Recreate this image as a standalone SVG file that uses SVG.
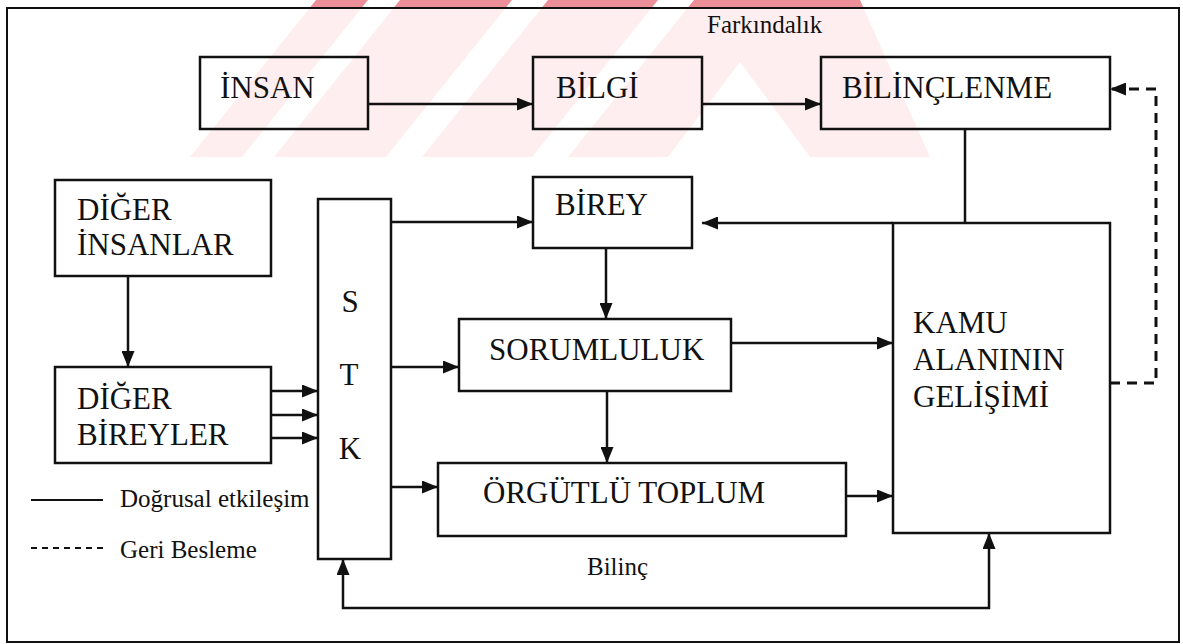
<svg xmlns="http://www.w3.org/2000/svg" xmlns:xlink="http://www.w3.org/1999/xlink" width="1183" height="644" viewBox="0 0 1183 644">
<style>
.box{fill:none;stroke:#111;stroke-width:2.5}
.t{font-family:"Liberation Serif","Times New Roman",serif;font-size:31px;fill:#111}
.s{font-family:"Liberation Serif","Times New Roman",serif;font-size:25px;fill:#111}
.c{fill:none;stroke:#111;stroke-width:2.5}
.d{fill:none;stroke:#111;stroke-width:3;stroke-dasharray:10 7}
</style>
<defs>
<marker id="ah" viewBox="0 0 16 13" refX="16" refY="6.5" markerWidth="16" markerHeight="13" markerUnits="userSpaceOnUse" orient="auto-start-reverse"><path d="M0,0 L16,6.5 L0,13 Z" fill="#111"/></marker>
<g id="wm">
<polygon points="190,157 316,0 368,0 242,157"/>
<polygon points="274,157 400,0 512,0 386,157"/>
<polygon points="422,157 548,0 658,0 532,157"/>
<polygon points="568,157 694,0 860,0 930,157 810,157 740,62 668,157"/>
</g>
<clipPath id="cin"><rect x="8" y="9" width="1170" height="150"/></clipPath>
<clipPath id="ctop"><rect x="0" y="0" width="1183" height="8"/></clipPath>
</defs>
<rect x="0" y="0" width="1183" height="644" fill="#fff"/>
<g id="watermark">
<use xlink:href="#wm" fill="#feeef0" clip-path="url(#cin)"/>
<use xlink:href="#wm" fill="#ec8f98" clip-path="url(#ctop)"/>
</g>
<rect id="frame" x="7" y="8" width="1172" height="634" fill="none" stroke="#111" stroke-width="2"/>
<g id="connectors">
<path class="c" d="M368,104 H533" marker-end="url(#ah)"/>
<path class="c" d="M702,104 H821" marker-end="url(#ah)"/>
<path class="c" d="M965,129 V223"/>
<path class="c" d="M128,276 V367" marker-end="url(#ah)"/>
<path class="c" d="M271,391 H318" marker-end="url(#ah)"/>
<path class="c" d="M271,415 H318" marker-end="url(#ah)"/>
<path class="c" d="M271,438 H318" marker-end="url(#ah)"/>
<path class="c" d="M391,222 H533" marker-end="url(#ah)"/>
<path class="c" d="M391,367 H459" marker-end="url(#ah)"/>
<path class="c" d="M391,487 H438" marker-end="url(#ah)"/>
<path class="c" d="M606,248 V319" marker-end="url(#ah)"/>
<path class="c" d="M607,391 V463" marker-end="url(#ah)"/>
<path class="c" d="M731,343 H893" marker-end="url(#ah)"/>
<path class="c" d="M846,496 H893" marker-end="url(#ah)"/>
<path class="c" d="M893,223 H702" marker-end="url(#ah)"/>
<path class="c" d="M343,559 V608 H989 V533" marker-start="url(#ah)" marker-end="url(#ah)"/>
<path class="d" d="M1110,383 H1156 V89 H1110" marker-end="url(#ah)"/>
</g>
<g id="insan"><rect class="box" x="200" y="57" width="168" height="72"/><text class="t" x="220" y="98">İNSAN</text></g>
<g id="bilgi"><rect class="box" x="533" y="57" width="169" height="72"/><text class="t" x="556" y="98">BİLGİ</text></g>
<g id="bilinclenme"><rect class="box" x="821" y="57" width="289" height="72"/><text class="t" x="842" y="98">BİLİNÇLENME</text></g>
<g id="diger-insanlar"><rect class="box" x="55" y="180" width="216" height="96"/><text class="t" x="77" y="220">DİĞER</text><text class="t" x="77" y="255">İNSANLAR</text></g>
<g id="diger-bireyler"><rect class="box" x="55" y="367" width="216" height="96"/><text class="t" x="77" y="409">DİĞER</text><text class="t" x="77" y="445">BİREYLER</text></g>
<g id="stk"><rect class="box" x="318" y="199" width="73" height="360"/><text class="t" x="350" y="312" text-anchor="middle">S</text><text class="t" x="349" y="385" text-anchor="middle">T</text><text class="t" x="350" y="459" text-anchor="middle">K</text></g>
<g id="birey"><rect class="box" x="533" y="177" width="159" height="71"/><text class="t" x="555" y="215">BİREY</text></g>
<g id="sorumluluk"><rect class="box" x="459" y="319" width="272" height="72"/><text class="t" x="489" y="360">SORUMLULUK</text></g>
<g id="orgutlu"><rect class="box" x="438" y="463" width="408" height="73"/><text class="t" x="483" y="503">ÖRGÜTLÜ TOPLUM</text></g>
<g id="kamu"><rect class="box" x="893" y="223" width="217" height="310"/><text class="t" x="913" y="333">KAMU</text><text class="t" x="913" y="370">ALANININ</text><text class="t" x="913" y="407">GELİŞİMİ</text></g>
<g id="labels">
<text class="s" x="707" y="33">Farkındalık</text>
<text class="s" x="587" y="575">Bilinç</text>
</g>
<g id="legend">
<line x1="31" y1="500" x2="103" y2="500" stroke="#111" stroke-width="2"/>
<text class="s" x="120" y="507">Doğrusal etkileşim</text>
<line x1="31" y1="548" x2="103" y2="548" stroke="#111" stroke-width="2" stroke-dasharray="6 5"/>
<text class="s" x="120" y="558">Geri Besleme</text>
</g>
</svg>
